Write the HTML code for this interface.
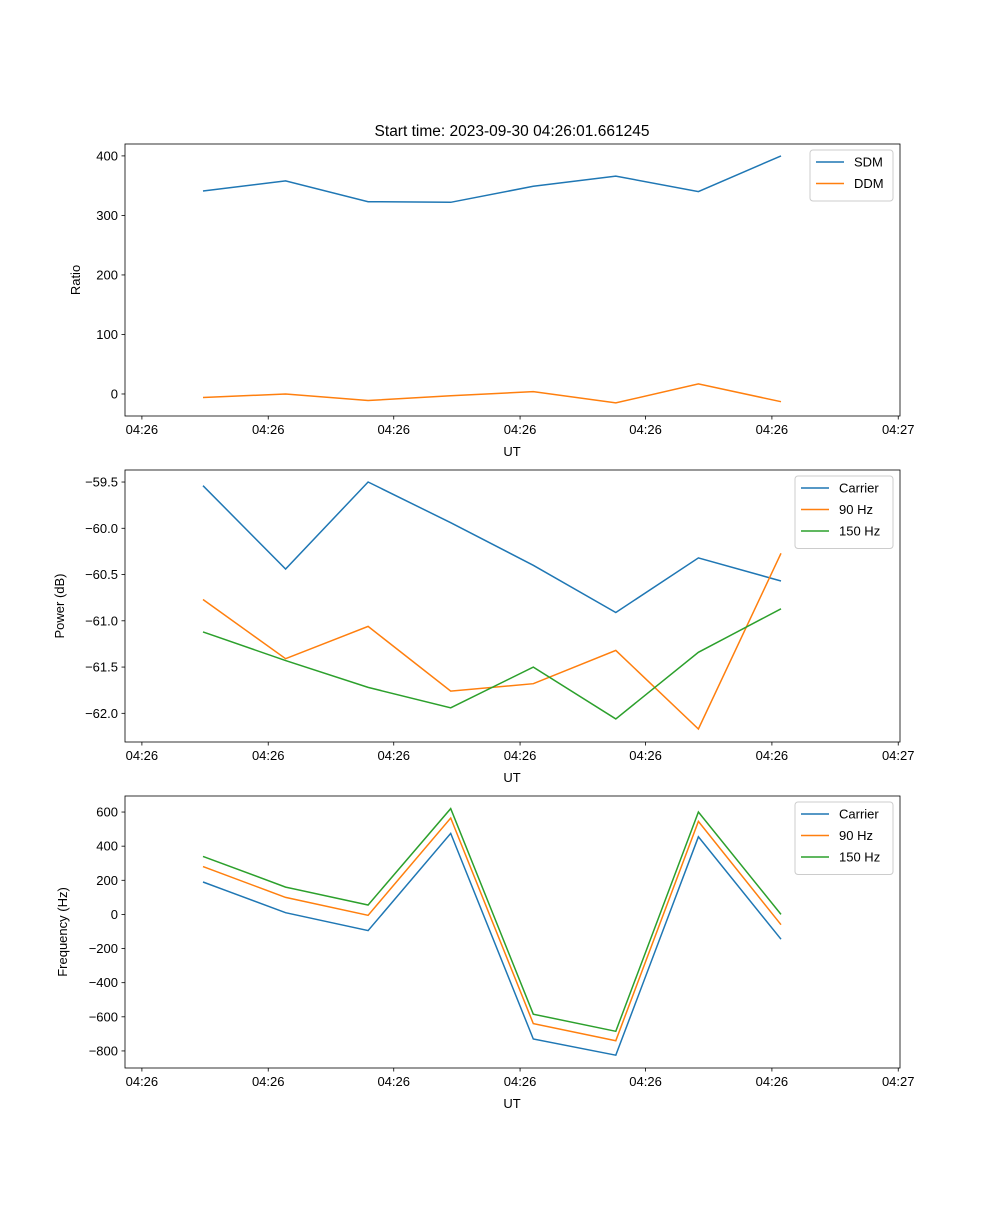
<!DOCTYPE html>
<html><head><meta charset="utf-8"><style>
body{margin:0;background:#fff}
svg text{font-family:"Liberation Sans","DejaVu Sans",sans-serif;fill:#000}
</style></head><body>
<svg id="fig" width="1000" height="1200" xmlns="http://www.w3.org/2000/svg"></svg>
<script>
const xIdx = [0,1,2,3,4,5,6,7];
const xTickVals = [-0.74,0.79,2.31,3.84,5.36,6.89,8.42];
const xTickLabels = ["04:26","04:26","04:26","04:26","04:26","04:26","04:27"];
const sdm = [341,358,323,322,349,366,340,400];
const ddm = [-6,0,-11,-3,4,-15,17,-13];
const pCarrier = [-59.54,-60.44,-59.50,-59.94,-60.40,-60.91,-60.32,-60.57];
const p90 = [-60.77,-61.41,-61.06,-61.76,-61.68,-61.32,-62.17,-60.27];
const p150 = [-61.12,-61.43,-61.72,-61.94,-61.50,-62.06,-61.34,-60.87];
const fCarrier = [190,10,-95,475,-730,-825,455,-145];
const f90 = [280,100,-5,565,-640,-740,545,-60];
const f150 = [340,160,55,620,-585,-685,600,0];
const ticks1 = [0,100,200,300,400];
const ticks2 = [-62.0,-61.5,-61.0,-60.5,-60.0,-59.5];
const ticks3 = [-800,-600,-400,-200,0,200,400,600];

const NS="http://www.w3.org/2000/svg";
const svg=document.getElementById('fig');
function mk(tag,attrs,parent){const e=document.createElementNS(NS,tag);for(const k in attrs)e.setAttribute(k,attrs[k]);(parent||svg).appendChild(e);return e;}
const L=125,R=900;
const xs=v=>203+(v-0)*82.57;
const colors={blue:"#1f77b4",orange:"#ff7f0e",green:"#2ca02c"};

function panel(name,top,bot,ymin,ymax,yticks,fmt,ylabel,series,legendW){
  const g=mk('g',{});
  
  
  const ys=v=>bot-(v-ymin)/(ymax-ymin)*(bot-top);
  series.forEach(s=>{
    const d=s.vals.map((v,i)=>(i?'L':'M')+xs(xIdx[i]).toFixed(1)+','+ys(v).toFixed(1)).join('');
    const p=mk('path',{d:d,fill:'none',stroke:s.color,'stroke-width':1.5},g);
    
    
  });
  const fr=mk('rect',{x:L,y:top,width:R-L,height:bot-top,fill:'none',stroke:'#000','stroke-width':0.8},g);
  
  
  xTickVals.forEach((v,i)=>{
    const x=xs(v);
    mk('line',{x1:x,x2:x,y1:bot,y2:bot+3.5,stroke:'#000','stroke-width':0.8},g);
    const t=mk('text',{x:x,y:bot+18,'text-anchor':'middle','font-size':13},g);
    t.textContent=xTickLabels[i];
    
    
  });
  yticks.forEach(v=>{
    const y=ys(v);
    mk('line',{x1:L-3.5,x2:L,y1:y,y2:y,stroke:'#000','stroke-width':0.8},g);
    const t=mk('text',{x:L-7,y:y+4.5,'text-anchor':'end','font-size':13},g);
    t.textContent=fmt(v);
    
    
  });
  const xl=mk('text',{x:512,y:bot+40,'text-anchor':'middle','font-size':13},g);
  xl.textContent='UT';
  
  
  const cy=(top+bot)/2;
  const yl=mk('text',{x:0,y:0,'text-anchor':'middle','font-size':13,transform:`translate(${ylabel[1]},${cy}) rotate(-90)`},g);
  yl.textContent=ylabel[0];
  
  
  const lx=R-7-legendW, ly=top+6, lh=8+series.length*21.5;
  const lg=mk('g',{},g);
  
  
  mk('rect',{x:lx,y:ly,width:legendW,height:lh,rx:3,fill:'#fff','fill-opacity':0.8,stroke:'#ccc'},lg);
  series.forEach((s,i)=>{
    const yy=ly+12+i*21.5;
    mk('line',{x1:lx+6,x2:lx+34,y1:yy,y2:yy,stroke:s.color,'stroke-width':1.5},lg);
    const t=mk('text',{x:lx+44,y:yy+4.5,'font-size':13},lg);
    t.textContent=s.label;
    
    
  });
}
const title=mk('text',{x:512,y:136,'text-anchor':'middle','font-size':15.5});
title.textContent='Start time: 2023-09-30 04:26:01.661245';


panel('ratio-panel',144,416,-37,420,ticks1,v=>String(v),['Ratio',80],
  [{id:'sdm',label:'SDM',vals:sdm,color:colors.blue},{id:'ddm',label:'DDM',vals:ddm,color:colors.orange}],83);
panel('power-panel',470,742,-62.31,-59.37,ticks2,v=>v.toFixed(1).replace('-','\u2212'),['Power (dB)',64],
  [{id:'carrier-power',label:'Carrier',vals:pCarrier,color:colors.blue},{id:'90hz-power',label:'90 Hz',vals:p90,color:colors.orange},{id:'150hz-power',label:'150 Hz',vals:p150,color:colors.green}],98);
panel('frequency-panel',796,1068,-900,694,ticks3,v=>String(v).replace('-','\u2212'),['Frequency (Hz)',67],
  [{id:'carrier-freq',label:'Carrier',vals:fCarrier,color:colors.blue},{id:'90hz-freq',label:'90 Hz',vals:f90,color:colors.orange},{id:'150hz-freq',label:'150 Hz',vals:f150,color:colors.green}],98);
</script>
</body></html>
